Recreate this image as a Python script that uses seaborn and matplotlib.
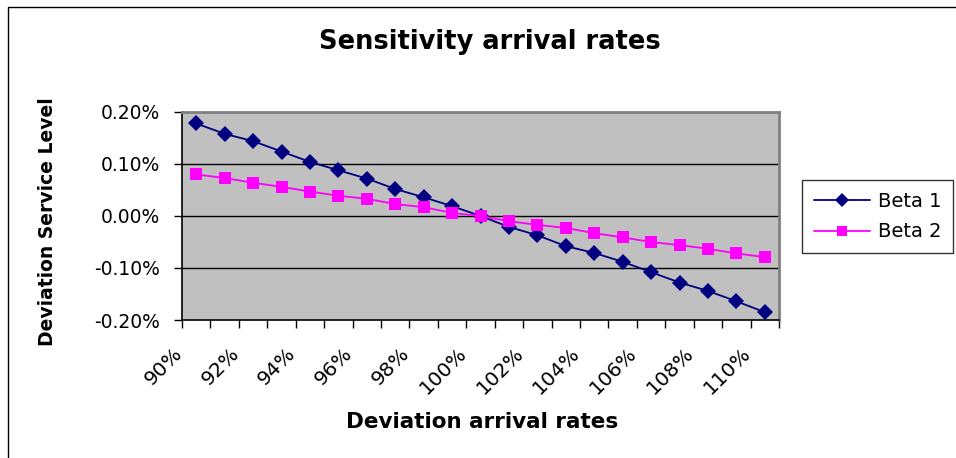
import numpy as np
import pandas as pd
import matplotlib
matplotlib.use('Agg')
import matplotlib.pyplot as plt
import matplotlib.transforms as mtransforms
from matplotlib.patches import Rectangle
import seaborn as sns

# Categories on the x axis (deviation of arrival rates)
categories = [f'{p}%' for p in range(90, 111)]

# Deviation of service level, in percent
beta1 = [0.178, 0.158, 0.144, 0.124, 0.104, 0.088, 0.072, 0.052, 0.036, 0.019, 0.000,
         -0.021, -0.037, -0.058, -0.071, -0.088, -0.108, -0.128, -0.144, -0.164, -0.185]
beta2 = [0.080, 0.073, 0.064, 0.056, 0.047, 0.039, 0.033, 0.023, 0.017, 0.006, 0.000,
         -0.010, -0.017, -0.023, -0.033, -0.041, -0.050, -0.056, -0.063, -0.072, -0.079]

y_ticks = [-0.2, -0.1, 0.0, 0.1, 0.2]

df = pd.DataFrame({
    'idx': list(range(len(categories))) * 2,
    'value': beta1 + beta2,
    'series': ['Beta 1'] * len(beta1) + ['Beta 2'] * len(beta2),
})

sns.set_style('white')
plt.rcParams['font.family'] = ['DejaVu Sans']
plt.rcParams['text.color'] = 'black'
plt.rcParams['xtick.color'] = 'black'
plt.rcParams['ytick.color'] = 'black'

fig = plt.figure(figsize=(9.56, 4.58), dpi=100)
ax = fig.add_axes([182 / 956, 1 - 320 / 458, 597 / 956, 208 / 458])
ax.set_facecolor('#C0C0C0')

palette = {'Beta 1': '#000080', 'Beta 2': '#FF00FF'}
sns.lineplot(
    data=df, x='idx', y='value', hue='series', style='series',
    palette=palette, markers={'Beta 1': 'D', 'Beta 2': 's'}, dashes=False,
    markersize=8.5, linewidth=1.3, markeredgewidth=0, ax=ax, zorder=3,
)

ax.set_xlim(-0.5, len(categories) - 0.5)
ax.set_ylim(-0.2, 0.2)

# horizontal gridlines
for yv in y_ticks[1:-1]:
    ax.axhline(yv, color='black', linewidth=1, zorder=1)

ax.set_yticks(y_ticks)
ax.set_yticklabels([f'{v:.2f}%' for v in y_ticks], fontsize=13.5)
ax.tick_params(axis='y', direction='out', length=6, width=1, color='black', pad=10, left=True)

ax.set_xticks(range(0, len(categories), 2))
ax.set_xticks(np.arange(-0.5, len(categories), 1), minor=True)
ax.tick_params(axis='x', which='major', length=0, pad=14)
ax.tick_params(axis='x', which='minor', direction='out', length=6, width=1, color='black', bottom=True)
labels = ax.set_xticklabels(categories[::2], fontsize=14.5, rotation=45, ha='right',
                            va='center', rotation_mode='anchor')
offset = mtransforms.ScaledTranslation(-17 / 100, -11 / 100, fig.dpi_scale_trans)
for lab in labels:
    lab.set_transform(lab.get_transform() + offset)

ax.set_xlabel('')
ax.set_ylabel('')

for side in ['left', 'bottom']:
    ax.spines[side].set_color('black')
    ax.spines[side].set_linewidth(1.2)
for side in ['top', 'right']:
    ax.spines[side].set_visible(True)
    ax.spines[side].set_color('#808080')
    ax.spines[side].set_linewidth(2)

leg = ax.legend(loc='upper left', bbox_to_anchor=(802 / 956, 1 - 180 / 458),
                bbox_transform=fig.transFigure, fontsize=14, frameon=True,
                fancybox=False, handlelength=2.9, borderpad=0.6, labelspacing=0.6,
                handletextpad=0.4, borderaxespad=0)
leg.get_frame().set_edgecolor('black')
leg.get_frame().set_linewidth(1)
leg.get_frame().set_facecolor('white')
for h in leg.legend_handles:
    h.set_markersize(7.5)

fig.text(490 / 956, 1 - 42 / 458, 'Sensitivity arrival rates', ha='center', va='center',
         fontsize=18.5, fontweight='bold')
fig.text(482 / 956, 1 - 422 / 458, 'Deviation arrival rates', ha='center', va='center',
         fontsize=15.5, fontweight='bold')
fig.text(48 / 956, 1 - 222 / 458, 'Deviation Service Level', ha='center', va='center',
         rotation=90, fontsize=13.5, fontweight='bold')

# outer chart frame (left and top edges visible)
fig.patches.append(Rectangle((8 / 956, -0.1), 1.2, 1.1 - 7 / 458, transform=fig.transFigure,
                             fill=False, edgecolor='black', linewidth=1))

fig.savefig('out.png', dpi=100)
